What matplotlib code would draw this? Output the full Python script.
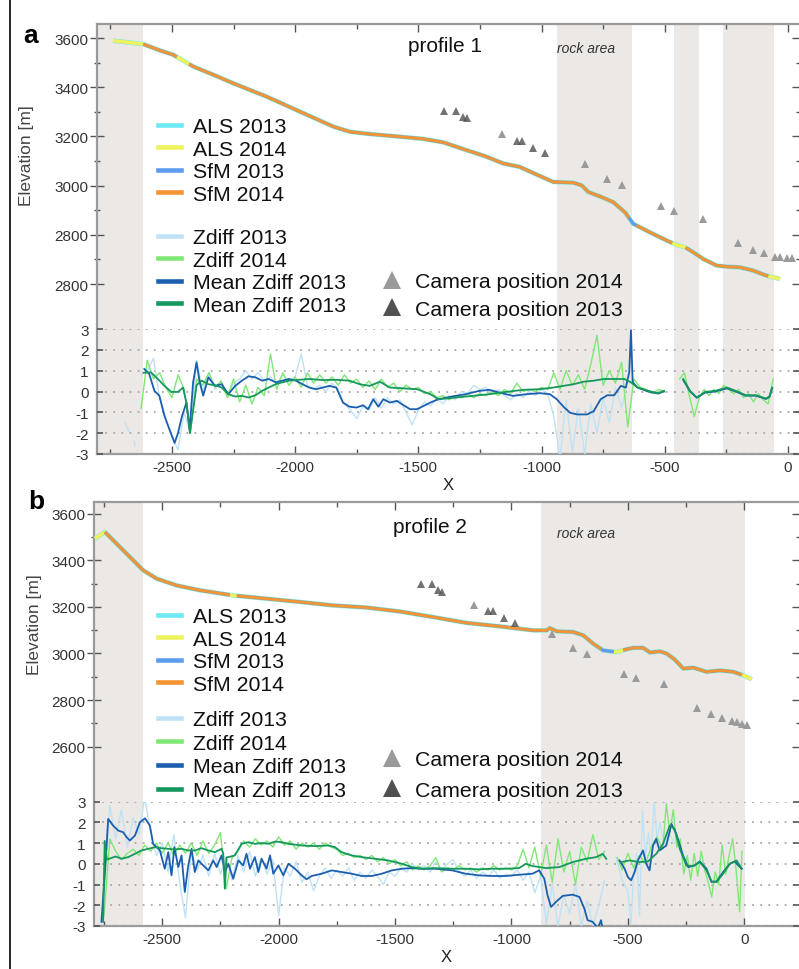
import numpy as np
import matplotlib
matplotlib.use("Agg")
import matplotlib.pyplot as plt
from matplotlib.lines import Line2D
from matplotlib.ticker import MultipleLocator, FixedLocator

plt.rcParams['font.family'] = ['Liberation Sans', 'DejaVu Sans']
plt.rcParams['axes.unicode_minus'] = False

# ---------------------------------------------------------------- data
# Profile 1: elevation along the profile (x in m, z in m a.s.l.)
prof1_x = [-2739, -2700, -2616, -2550, -2495, -2413, -2330, -2251, -2116, -1981,
           -1845, -1778, -1700, -1575, -1480, -1399, -1304, -1230, -1155, -1088,
           -1020, -952, -871, -837, -810, -760, -709, -660, -628, -560,
           -492, -452, -418, -384, -344, -289, -240, -195, -142, -90, -32]
prof1_z = [3589, 3585, 3575, 3550, 3532, 3484, 3450, 3416, 3362, 3301,
           3240, 3219, 3210, 3199, 3190, 3176, 3144, 3120, 3090, 3076,
           3045, 3015, 3012, 3001, 2974, 2955, 2933, 2890, 2845, 2810,
           2777, 2759, 2750, 2729, 2702, 2675, 2670, 2668, 2655, 2635, 2620]
# extent of each data set along profile 1
als13_p1 = [(-2739, -32)]
als14_p1 = [(-2739, -32)]
sfm13_p1 = [(-2616, -2480), (-2430, -470), (-415, -80)]
sfm14_p1 = [(-2616, -2480), (-2430, -645), (-615, -470), (-415, -80)]

# Profile 2
prof2_x = [-2789, -2768, -2746, -2725, -2682, -2625, -2582, -2524, -2438, -2338,
           -2195, -2052, -1909, -1765, -1622, -1479, -1336, -1192, -1049, -906,
           -849, -835, -806, -735, -692, -649, -606, -548, -505, -477,
           -434, -405, -362, -333, -300, -262, -219, -162, -104, -47, -4, 32]
prof2_z = [3493, 3507, 3521, 3500, 3457, 3400, 3357, 3321, 3292, 3271,
           3249, 3235, 3221, 3206, 3197, 3180, 3156, 3131, 3116, 3099,
           3099, 3109, 3095, 3092, 3078, 3042, 3013, 3006, 3018, 3024,
           3024, 3004, 3009, 2999, 2975, 2935, 2939, 2921, 2927, 2921, 2906, 2889]
als13_p2 = [(-2789, 32)]
als14_p2 = [(-2789, 32)]
sfm13_p2 = [(-2746, -2210), (-2180, -560), (-520, -10)]
sfm14_p2 = [(-2746, -2210), (-2180, -615), (-520, -10)]

# Camera positions (x, elevation)
cam14_p1_x = [-1162, -824, -736, -672, -515, -463, -346, -202, -141, -96, -53, -32, -5, 15]
cam14_p1_z = [3208, 3086, 3026, 3001, 2916, 2895, 2865, 2767, 2740, 2725, 2711, 2708, 2706, 2705]
cam13_p1_x = [-1395, -1347, -1318, -1304, -1101, -1081, -1034, -986]
cam13_p1_z = [3305, 3305, 3280, 3273, 3182, 3182, 3154, 3133]
cam14_p2_x = [-1161, -825, -737, -674, -517, -465, -345, -204, -143, -97, -54, -33, -11, 10]
cam14_p2_z = [3206, 3082, 3024, 2996, 2913, 2896, 2867, 2767, 2742, 2724, 2710, 2705, 2698, 2692]
cam13_p2_x = [-1390, -1343, -1314, -1300, -1100, -1078, -1031, -985]
cam13_p2_z = [3297, 3297, 3274, 3264, 3181, 3181, 3152, 3131]

# Elevation differences, profile 1 (sampled every 25 m / 20 m)
zd13_p1_a_x = [-2690, -2683, -2675, np.nan, -2653, -2650]
zd13_p1_a = [-1.5, -1.7, -1.9, np.nan, -2.4, -2.6]
zd13_p1_b_start, zd13_p1_b_step = -2625, 25
zd13_p1_b = [0.8, 1.0, 1.6, -0.3, -1.3, -2.2, -2.8, -1.0, -2.0, 1.5, 0.0, 0.9, 0.1, 0.5,
             -0.2, 0.4, 0.6, 1.0, 0.6, 0.9, 0.5, 0.7, 0.4, 0.8, 0.5, 0.7, 1.8, 0.3, 0.1,
             0.3, 0.0, 0.4, 0.1, -0.6, -0.9, -1.3, -0.7, -0.9, -0.3, -0.8, -0.3, -0.6,
             -0.4, -1.0, -1.6, -0.9, -0.5, -0.7, -0.3, -0.6, -0.2, -0.4, 0.0, -0.1, 0.3,
             0.1, 0.2, -0.1, 0.1, -0.2, -0.4, -0.1, -0.3, 0.0, -0.2, 0.1, -0.1, -1.2,
             -3.2, -0.4, -2.9, -0.8, -3.0, -0.6, -2.0, -0.3, -1.5, 0.2, -0.8, 0.5, 0.3]
zd14_p1_a_start, zd14_p1_a_step = -2625, 25
zd14_p1_a = [-0.8, 1.5, 0.6, 0.9, 0.2, -0.3, 0.8, 0.1, -2.0, 0.6, 0.3, 0.9, 0.2, 0.5,
             -0.3, 0.6, -0.5, 0.3, -0.6, 0.2, -0.2, 1.8, 0.1, 0.9, 0.3, 0.7, 0.2, 0.9,
             0.4, 0.8, 0.4, 0.7, 0.3, 0.8, 0.4, 0.6, 0.2, 0.5, 0.1, 0.6, 0.2, 0.4, 0.0,
             0.3, 0.1, 0.2, -0.1, 0.0, -0.3, -0.2, -0.4, -0.2, -0.3, -0.1, -0.3, -0.1,
             -0.2, 0.0, -0.2, 0.1, -0.1, 0.4, 0.0, 0.1, 0.0, 0.2, 0.1, 0.9, 0.1, 1.0,
             0.3, 0.8, 0.1, 1.3, 2.7, 0.3, 1.0, 0.4, 1.4, -1.7, 0.6, 0.2, 0.1, -0.1,
             0.1, 0.0]
zd14_p1_b_start, zd14_p1_b_step = -440, 20
zd14_p1_b = [0.6, 0.9, -0.2, -1.2, -0.3, 0.1, -0.2, 0.1, -0.1, 0.3, 0.1, -0.1, 0.1,
             -0.3, -0.1, -0.5, -0.1, -0.4, -0.6, 0.6]

mean13_p1_x = [-2612, -2592, -2571, -2551, -2530, -2510, -2489, -2475, -2459, -2441,
               -2428, -2414, -2400, -2387, -2373, -2352, -2325, -2298, -2271, -2243,
               -2216, -2189, -2161, -2134, -2107, -2079, -2052, -2025, -1997, -1970,
               -1943, -1915, -1888, -1861, -1833, -1806, -1779, -1751, -1724, -1704,
               -1683, -1662, -1642, -1615, -1587, -1560, -1533, -1505, -1478, -1451,
               -1418, -1363, -1308, -1253, -1212, -1171, -1116, -1062, -1007, -966,
               -938, -911, -884, -856, -815, -788, -760, -733, -705, -678,
               -658, -644, -637, -630, -610, -568, -527, -503, np.nan,
               -425, -397, -370, -336, -295, -247, -212, -171, -130, -89, -75, -64]
mean13_p1 = [1.08, 0.84, 0.03, -0.2, -1.18, -1.82, -2.47, -1.98, -1.18, -0.53,
             -1.82, 0.44, 1.4, 0.44, -0.2, 0.68, 0.27, 0.35, -0.13, 0.27,
             0.52, 0.73, 0.68, 0.52, 0.6, 0.44, 0.52, 0.6, 0.52, 0.35,
             0.19, 0.11, 0.19, 0.27, 0.19, -0.53, -0.73, -0.77, -0.66, -0.85,
             -0.37, -0.73, -0.37, -0.53, -0.45, -0.66, -0.85, -0.85, -0.69, -0.53,
             -0.37, -0.24, -0.13, 0.03, 0.08, -0.05, -0.21, -0.13, -0.08, -0.13,
             -0.37, -0.73, -1.02, -1.1, -1.1, -0.94, -0.37, -0.18, -0.18, 0.27,
             0.19, 0.92, 2.94, 0.44, 0.19, 0.0, -0.1, 0.0, np.nan,
             0.55, 0.0, -0.3, -0.05, 0.0, 0.15, 0.0, -0.2, -0.2, -0.36, -0.26, 0.15]
mean14_p1_x = [-2615, -2585, -2557, -2530, -2503, -2475, -2455, -2440, -2427, -2415,
               -2400, -2380, -2352, -2325, -2298, -2271, -2243, -2216, -2189, -2161,
               -2134, -2107, -2079, -2052, -2025, -1997, -1943, -1888, -1833, -1779,
               -1738, -1697, -1656, -1615, -1560, -1505, -1451, -1418, -1349, -1281,
               -1212, -1144, -1075, -1007, -952, -911, -870, -829, -788, -747,
               -705, -664, -637, -610, -568, -527, -503, np.nan,
               -425, -397, -370, -336, -295, -247, -212, -171, -130, -89, -75, -64]
mean14_p1 = [0.9, 0.92, 0.6, 0.27, -0.02, -0.02, 0.19, -0.6, -2.0, -1.0,
             0.3, 0.52, 0.35, 0.3, 0.19, -0.13, -0.24, -0.21, -0.29, -0.18,
             0.03, 0.19, 0.35, 0.44, 0.52, 0.55, 0.6, 0.55, 0.56, 0.52,
             0.35, 0.27, 0.47, 0.19, 0.15, 0.11, -0.13, -0.37, -0.29, -0.21,
             -0.13, -0.02, 0.08, 0.11, 0.19, 0.27, 0.35, 0.47, 0.52, 0.6,
             0.6, 0.6, 0.44, 0.19, 0.03, -0.08, 0.03, np.nan,
             0.6, 0.03, -0.29, -0.02, 0.03, 0.19, 0.03, -0.18, -0.18, -0.34, -0.24, 0.19]

# Elevation differences, profile 2
zd13_p2_a_start, zd13_p2_a_step = -2750, 25
zd13_p2_a = [-1.5, 2.8, 1.2, 2.6, 0.8, 2.2, 1.4, 3.2, 1.5, 0.4, 1.0, -0.4, 1.4, -0.9,
             -2.6, 0.6, -0.3, 0.4, -0.6, 0.5, -0.5, 0.3, -0.8, 0.4, -0.4, 0.6, -0.6,
             0.3, -0.5, 0.2, -2.5, -0.2, -0.6, 0.1, -0.9, -0.4, -1.3, -0.6, -0.2, -0.7,
             -0.3, -0.6, -0.2, -0.8, -0.4, -0.7, -0.3, -0.6, -1.0, -0.4, -0.6, -0.2,
             -0.4, 0.0, -0.3, -0.1, -0.4, 0.1, -0.3, 0.0, 0.2, -0.4, -0.6, -0.3, -0.7,
             -0.4, -0.6, -0.3, -0.7, -0.5, -0.6, -0.3, -0.8, -0.4, -1.4, -0.6, -2.9,
             -1.0, -3.0, -1.5, -2.4, -1.0, -3.0, -1.8, -3.0, -2.0, -0.8]
zd13_p2_b_x = [-550, -525, -500, -487, -475, -462, -450, -437, -425, -412, -400, -387,
               -375, -362, -350, -337, -325, -300]
zd13_p2_b = [0.3, -0.8, -1.3, -2.9, -0.5, 0.5, -2.5, 2.6, 0.3, 1.5, 0.2, 3.1, 1.2, 2.0,
             1.2, 0.9, 1.5, 1.0]
zd14_p2_a_start, zd14_p2_a_step = -2750, 25
zd14_p2_a = [-2.5, 1.2, 0.6, 0.2, 0.5, 0.7, 0.4, 0.9, 0.6, 1.0, 0.5, 1.0, 0.4, 0.9, 0.5,
             1.0, 0.4, 1.1, 0.5, 0.9, 1.5, -1.2, 0.3, 0.6, 1.1, 0.8, 1.2, 0.9, 1.1, 0.8,
             1.3, 0.9, 1.1, 0.7, 1.0, 0.8, 1.0, 0.7, 1.0, 0.8, 0.7, 0.4, 0.5, 0.3, 0.4,
             0.2, 0.4, 0.1, 0.3, 0.0, 0.2, -0.1, 0.1, -0.3, -0.1, -0.3, -0.1, 0.3, -0.4,
             -0.2, -0.3, -0.1, -0.3, -0.2, -0.4, -0.2, -0.3, -0.1, -0.3, -0.2, -0.3,
             -0.1, 0.7, -0.2, 0.8, -0.6, 0.9, -0.9, 1.2, -0.4, 0.6, -1.0, 0.8, 0.1, 1.4,
             0.2, 0.6]
zd14_p2_b_x = [-545, -525, -500, -475, -450, -425, -400, -375, -350, -335, -320, -305,
               -290, -275, -260, -245, -230, -215, -200, -185, -170, -155, -140, -125,
               -110, -95, -80, -65, -50, -35, -20, -10]
zd14_p2_b = [0.3, -0.3, 0.5, -0.2, 0.4, 0.0, 0.8, 1.3, 0.7, 2.9, 1.5, 2.6, 0.8, 1.2,
             -0.5, 0.4, -0.8, 0.5, -0.6, 0.6, -0.3, -0.9, -1.6, -0.4, -1.0, 0.9, -0.5,
             0.4, 1.2, -0.3, -2.3, 0.6]

mean13_p2_x = [-2761, -2746, -2732, -2711, -2689, -2668, -2653, -2639, -2617, -2596,
               -2574, -2553, -2539, -2524, -2510, -2489, -2474, -2460, -2448, -2431,
               -2417, -2403, -2388, -2374, -2360, -2345, -2324, -2302, -2281, -2266,
               -2245, -2231, -2216, -2195, -2173, -2152, -2138, -2123, -2102, -2087,
               -2073, -2052, -2037, -2023, -2001, -1980, -1958, -1930, -1901, -1880,
               -1858, -1815, -1772, -1729, -1686, -1643, -1600, -1557, -1514, -1471,
               -1428, -1385, -1328, -1254, -1197, -1139, -1082, -1024, -967, -910,
               -881, -859, -845, -830, -809, -780, -737, -708, -687, -673,
               -651, -629, -615, -608, np.nan,
               -536, -514, -500, -486, -471, -457, -435, -421, -407, -392,
               -378, -364, -335, -313, -292, -263, -241, -213, -191, -162,
               -141, -119, -91, -62, -40, -26, -11]
mean13_p2 = [-2.8, -0.4, 2.16, 1.84, 1.6, 1.52, 1.28, 1.12, 1.36, 2.0,
             2.19, 1.84, 0.96, 0.8, 0.64, -0.24, 0.56, -0.56, 0.8, -0.16,
             0.4, -1.36, -0.08, 0.72, -0.4, 0.16, -0.08, -0.32, 0.16, -0.16,
             0.4, -0.4, 0.0, -0.72, 0.16, -0.08, 0.48, -0.24, 0.32, -0.4,
             0.24, -0.24, 0.4, -0.48, -0.08, -0.56, 0.0, -0.24, -0.56, -0.75,
             -0.59, -0.48, -0.32, -0.4, -0.48, -0.59, -0.59, -0.48, -0.32, -0.24,
             -0.21, -0.24, -0.24, -0.32, -0.48, -0.56, -0.59, -0.59, -0.53, -0.48,
             -0.32, -0.72, -1.52, -2.08, -1.84, -1.55, -1.49, -1.6, -2.16, -2.72,
             -2.8, -3.1, -2.72, -3.2, np.nan,
             0.16, -0.24, -0.64, -0.8, -0.4, 0.16, 0.64, 0.0, -0.32, 0.88,
             1.2, 0.64, 0.88, 1.92, 1.44, 0.4, -0.16, -0.08, 0.11, -0.24,
             -0.88, -0.85, -0.4, 0.0, 0.11, -0.08, -0.24]
mean14_p2_x = [-2754, -2747, -2738, -2700, -2675, -2646, -2617, -2589, -2560, -2531,
               -2503, -2474, -2446, -2417, -2388, -2360, -2331, -2302, -2274, -2245,
               -2238, -2231, -2224, -2188, -2159, -2130, -2102, -2073, -2044, -2016,
               -1987, -1958, -1901, -1844, -1787, -1758, -1730, -1686, -1643, -1586,
               -1529, -1471, -1428, -1385, -1328, -1254, -1197, -1139, -1082, -1024,
               -967, -938, -910, -852, -794, -737, -680, -636, -608, -593, np.nan,
               -529, -493, -450, -414, -378, -349, -320, -299, -277, -249,
               -220, -191, -162, -141, -119, -91, -62, -33, -11]
mean14_p2 = [-2.8, 1.1, 0.2, 0.35, 0.24, 0.32, 0.48, 0.64, 0.72, 0.8,
             0.75, 0.72, 0.69, 0.72, 0.64, 0.64, 0.75, 0.64, 0.56, 0.72,
             0.5, -1.2, 0.3, 0.4, 0.96, 1.04, 0.96, 1.0, 0.96, 1.07,
             1.04, 0.96, 0.88, 0.85, 0.88, 0.8, 0.56, 0.4, 0.32, 0.24,
             0.16, 0.0, -0.16, -0.24, -0.21, -0.24, -0.24, -0.27, -0.24, -0.24,
             -0.21, 0.0, -0.11, -0.21, -0.16, 0.08, 0.24, 0.32, 0.48, 0.24, np.nan,
             0.08, 0.16, 0.08, 0.11, 0.48, 0.96, 1.84, 1.68, 0.72, -0.08,
             -0.11, 0.08, -0.32, -0.85, -0.88, -0.48, 0.0, 0.16, -0.24]

# shaded stretches (light gray) and axis tick labels
bands_p1 = [(-2804, -2616), (-936, -634), (-461, -360), (-265, -57)]
bands_p2 = [(-2793, -2581), (-873, 5)]
elev_ticks = [2600, 2800, 3000, 3200, 3400, 3600]
elev_labels_p1 = ['2800', '2800', '3000', '3200', '3400', '3600']
elev_labels_p2 = ['2600', '2800', '3000', '3200', '3400', '3600']
zd_ticks = [-3, -2, -1, 0, 1, 2, 3]

# ---------------------------------------------------------------- style
C_ALS13 = '#6eeaf5'
C_ALS14 = '#eef25c'
C_SFM13 = '#5d9def'
C_SFM14 = '#f59432'
C_ZD13 = '#bfe2f6'
C_ZD14 = '#7fe874'
C_M13 = '#1b5fae'
C_M14 = '#15975e'
C_CAM14 = '#9a9a9a'
C_CAM13 = '#505050'
C_BAND = '#ebe8e5'
C_SPINE = '#9a9a9a'
C_TICK = '#555555'
C_TXT = '#333333'

W, H = 799, 970
fig = plt.figure(figsize=(W / 100, H / 100), dpi=100)


def rect(l, t, r, b):
    return [l / W, 1 - b / H, (r - l) / W, (b - t) / H]


def segments(x, z, ranges):
    xs, zs = [], []
    x = np.asarray(x, float)
    z = np.asarray(z, float)
    for lo, hi in ranges:
        inner = (x > lo) & (x < hi)
        sx = np.concatenate([[lo], x[inner], [hi]])
        xs.extend(sx)
        zs.extend(np.interp(sx, x, z))
        xs.append(np.nan)
        zs.append(np.nan)
    return xs, zs


def grid_x(start, step, vals):
    return start + step * np.arange(len(vals))


def panel(main_rect, zd_rect, xlim, ylim, bands, prof_x, prof_z, cover,
          cams, noisy13, noisy14, m13, m14, elev_labels):
    ax = fig.add_axes(main_rect)
    for lo, hi in bands:
        ax.axvspan(lo, hi, color=C_BAND, lw=0, zorder=0)
    ax.set_xlim(*xlim)
    ax.set_ylim(*ylim)
    for rng, col, lw in zip(cover, [C_ALS13, C_ALS14, C_SFM13, C_SFM14],
                            [3.2, 2.6, 2.4, 2.0]):
        sx, sz = segments(prof_x, prof_z, rng)
        ax.plot(sx, sz, color=col, lw=lw, solid_capstyle='butt', zorder=3)
    (c13x, c13z), (c14x, c14z) = cams
    ax.plot(c13x, c13z, '^', color=C_CAM13, ms=6, mew=0, alpha=0.8, zorder=4)
    ax.plot(c14x, c14z, '^', color=C_CAM14, ms=6, mew=0, zorder=4)

    for s in ['left', 'top', 'bottom']:
        ax.spines[s].set_color(C_SPINE)
        ax.spines[s].set_linewidth(1.6)
    ax.spines['right'].set_visible(False)

    ax.set_yticks(elev_ticks)
    ax.set_yticklabels(elev_labels)
    ax.yaxis.set_minor_locator(FixedLocator([2700, 2900, 3100, 3300, 3500]))
    ax.tick_params(axis='y', which='major', direction='inout', length=10, width=1,
                   color=C_TICK, left=True, right=True, labelsize=11, pad=1.5,
                   labelcolor=C_TXT)
    ax.tick_params(axis='y', which='minor', direction='inout', length=5, width=1,
                   color=C_TICK, left=True, right=True)
    ax.xaxis.set_major_locator(MultipleLocator(500))
    ax.xaxis.set_minor_locator(MultipleLocator(250))
    ax.tick_params(axis='x', which='major', direction='in', length=6, width=1,
                   color=C_TICK, top=True, bottom=True, labelsize=11, pad=4.5,
                   labelcolor=C_TXT)
    ax.tick_params(axis='x', which='minor', direction='in', length=3.5, width=1,
                   color=C_TICK, top=True, bottom=True)
    ax.set_xlabel('X', fontsize=12, labelpad=2, color='#222')

    az = fig.add_axes(zd_rect, sharex=ax)
    az.patch.set_alpha(0)
    for s in az.spines.values():
        s.set_visible(False)
    az.set_ylim(-3, 3)
    az.set_yticks(zd_ticks)
    az.tick_params(axis='y', direction='in', length=4.5, width=1.2, color=C_TICK,
                   left=True, right=True, labelsize=11, pad=6, labelcolor=C_TXT)
    az.tick_params(axis='x', which='both', bottom=False, top=False,
                   labelbottom=False)
    az.grid(True, axis='y', color='#a8a8a8', lw=1.3, linestyle=(0, (1, 3.5)))
    for xs, vs in noisy13:
        az.plot(xs, vs, color=C_ZD13, lw=1.0, zorder=2)
    for xs, vs in noisy14:
        az.plot(xs, vs, color=C_ZD14, lw=1.0, zorder=2.2)
    az.plot(m13[0], m13[1], color=C_M13, lw=1.3, zorder=3)
    az.plot(m14[0], m14[1], color=C_M14, lw=1.3, zorder=3.2)
    return ax, az


# ---------------------------------------------------------------- panel a
ax1, az1 = panel(
    rect(97, 25, 799, 455), rect(97, 330, 799, 455), (-2804, 45), (1909, 3657),
    bands_p1, prof1_x, prof1_z, [als13_p1, als14_p1, sfm13_p1, sfm14_p1],
    [(cam13_p1_x, cam13_p1_z), (cam14_p1_x, cam14_p1_z)],
    [(zd13_p1_a_x, zd13_p1_a),
     (grid_x(zd13_p1_b_start, zd13_p1_b_step, zd13_p1_b), zd13_p1_b)],
    [(grid_x(zd14_p1_a_start, zd14_p1_a_step, zd14_p1_a), zd14_p1_a),
     (grid_x(zd14_p1_b_start, zd14_p1_b_step, zd14_p1_b), zd14_p1_b)],
    (mean13_p1_x, mean13_p1), (mean14_p1_x, mean14_p1), elev_labels_p1)

# ---------------------------------------------------------------- panel b
ax2, az2 = panel(
    rect(94, 503, 799, 927), rect(94, 802.5, 799, 927), (-2793, 235), (1830, 3650),
    bands_p2, prof2_x, prof2_z, [als13_p2, als14_p2, sfm13_p2, sfm14_p2],
    [(cam13_p2_x, cam13_p2_z), (cam14_p2_x, cam14_p2_z)],
    [(grid_x(zd13_p2_a_start, zd13_p2_a_step, zd13_p2_a), zd13_p2_a),
     (zd13_p2_b_x, zd13_p2_b)],
    [(grid_x(zd14_p2_a_start, zd14_p2_a_step, zd14_p2_a), zd14_p2_a),
     (zd14_p2_b_x, zd14_p2_b)],
    (mean13_p2_x, mean13_p2), (mean14_p2_x, mean14_p2), elev_labels_p2)

# ---------------------------------------------------------------- annotations
for ax, prof_label, px, rock_x in [(ax1, 'profile 1', -1542, -937),
                                   (ax2, 'profile 2', -1509, -805)]:
    tr = ax.get_xaxis_transform()
    ax.text(px, 0.949 if ax is ax1 else 0.943, prof_label, transform=tr,
            fontsize=15, ha='left', va='center', color='#111')
    ax.text(rock_x, 0.944 if ax is ax1 else 0.927, 'rock area', transform=tr,
            fontsize=10, style='italic', ha='left', va='center', color='#333')

fig.text(31 / W, 1 - 36 / H, 'a', fontsize=19, fontweight='bold',
         ha='center', va='center')
fig.text(36 / W, 1 - 502 / H, 'b', fontsize=19, fontweight='bold',
         ha='center', va='center')
fig.text(27 / W, 1 - 156 / H, 'Elevation [m]', rotation=90, fontsize=12.5,
         ha='center', va='center', color='#444')
fig.text(35 / W, 1 - 625 / H, 'Elevation [m]', rotation=90, fontsize=12.5,
         ha='center', va='center', color='#444')

# ---------------------------------------------------------------- legends
elev_handles = [Line2D([], [], color=c, lw=3.3) for c in
                [C_ALS13, C_ALS14, C_SFM13, C_SFM14]]
elev_names = ['ALS 2013', 'ALS 2014', 'SfM 2013', 'SfM 2014']
zd_handles = [Line2D([], [], color=c, lw=3.3) for c in
              [C_ZD13, C_ZD14, C_M13, C_M14]]
zd_names = ['Zdiff 2013', 'Zdiff 2014', 'Mean Zdiff 2013', 'Mean Zdiff 2013']
cam_handles = [Line2D([], [], marker='^', ls='none', ms=13, mew=0, color=C_CAM14),
               Line2D([], [], marker='^', ls='none', ms=13, mew=0, color=C_CAM13)]
cam_names = ['Camera position 2014', 'Camera position 2013']

leg_kw = dict(loc='upper left', bbox_transform=fig.transFigure, frameon=False,
              borderpad=0, borderaxespad=0, handlelength=1.1, handletextpad=0.55,
              fontsize=15.3, labelcolor='#111')
for top1, top2, top3, sp2, sp3 in [(118, 229, 273, 0.17, 0.4),
                                   (608, 711, 751, 0.22, 0.55)]:
    fig.legend(elev_handles, elev_names, bbox_to_anchor=(158 / W, 1 - top1 / H),
               labelspacing=0.17, **leg_kw)
    fig.legend(zd_handles, zd_names, bbox_to_anchor=(158 / W, 1 - top2 / H),
               labelspacing=sp2, **leg_kw)
    fig.legend(cam_handles, cam_names, bbox_to_anchor=(380 / W, 1 - top3 / H),
               labelspacing=sp3, **leg_kw)

# figure frame line on the left
fig.add_artist(Line2D([10 / W, 10 / W], [0, 1], transform=fig.transFigure,
                      color='black', lw=1.2))

fig.savefig('out.png', dpi=100)
